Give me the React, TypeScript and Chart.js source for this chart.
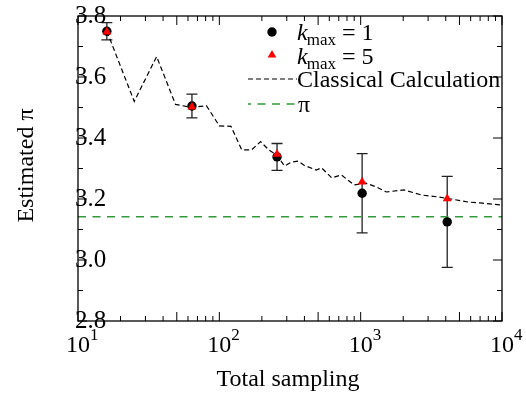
import React, { useEffect, useRef } from 'react';
import { Chart, registerables } from 'chart.js';

Chart.register(...registerables);

const SERIF = "'Liberation Serif', 'Times New Roman', serif";

// ---- data ----
const samplingN = [16, 64, 256, 1024, 4096];
const kmax1Values = [3.75, 3.505, 3.338, 3.219, 3.125];
const kmax1Errors = [0.028, 0.039, 0.044, 0.13, 0.149];
const kmax5Values = [3.748, 3.502, 3.347, 3.256, 3.201];

const classicalN = [
  16, 25, 36, 49, 64, 81, 100, 121, 144, 169, 196, 225, 256, 289, 324, 361, 400,
  484, 529, 625, 729, 900, 1089, 1296, 1521, 2025, 2704, 3481, 4356, 5776, 7056, 10000,
];
const classicalValues = [
  3.75, 3.52, 3.667, 3.51, 3.5, 3.506, 3.44, 3.438, 3.361, 3.361, 3.388, 3.36, 3.344, 3.308, 3.321, 3.324, 3.31,
  3.295, 3.302, 3.269, 3.279, 3.246, 3.252, 3.239, 3.223, 3.23, 3.213, 3.207, 3.2, 3.19, 3.187, 3.18,
];

const piLineN = [10, 10000];
const piValue = 3.14159;

// ---- axes ----
const xMin = 10;
const xMax = 10000;
const yMin = 2.8;
const yMax = 3.8;
const xMajorTicks = [10, 100, 1000, 10000];
const xTickExponents = ['1', '2', '3', '4'];
const xMinorTicks = [20, 30, 40, 50, 60, 70, 80, 90, 200, 300, 400, 500, 600, 700, 800, 900, 2000, 3000, 4000, 5000, 6000, 7000, 8000, 9000];
const xLongMinorTicks = [50, 500, 5000];
const yMajorTicks = [2.8, 3.0, 3.2, 3.4, 3.6, 3.8];
const yTickLabels = ['2.8', '3.0', '3.2', '3.4', '3.6', '3.8'];
const yMinorTicks = [2.9, 3.1, 3.3, 3.5, 3.7];

const xTitle = 'Total sampling';
const yTitle = 'Estimated π';

const RED = '#ff0000';
const GREEN = '#33993a';

const overlayPlugin = {
  id: 'overlay',
  beforeDatasetsDraw(chart: any) {
    const { ctx, scales } = chart;
    const x = scales.x;
    const y = scales.y;
    ctx.save();
    ctx.strokeStyle = '#222';
    ctx.lineWidth = 1.3;
    samplingN.forEach((n, i) => {
      const px = x.getPixelForValue(n);
      const top = y.getPixelForValue(kmax1Values[i] + kmax1Errors[i]);
      const bot = y.getPixelForValue(kmax1Values[i] - kmax1Errors[i]);
      ctx.beginPath();
      ctx.moveTo(px, top);
      ctx.lineTo(px, bot);
      ctx.moveTo(px - 5.5, top);
      ctx.lineTo(px + 5.5, top);
      ctx.moveTo(px - 5.5, bot);
      ctx.lineTo(px + 5.5, bot);
      ctx.stroke();
    });
    ctx.restore();
  },
  afterDraw(chart: any) {
    const { ctx, chartArea: a, scales } = chart;
    const x = scales.x;
    const y = scales.y;
    ctx.save();
    // frame
    ctx.strokeStyle = '#000';
    ctx.lineWidth = 1.3;
    ctx.strokeRect(a.left, a.top, a.right - a.left, a.bottom - a.top);

    // ticks
    ctx.lineWidth = 1;
    const xTick = (v: number, len: number) => {
      const px = x.getPixelForValue(v);
      ctx.beginPath();
      ctx.moveTo(px, a.bottom);
      ctx.lineTo(px, a.bottom - len);
      ctx.moveTo(px, a.top);
      ctx.lineTo(px, a.top + len);
      ctx.stroke();
    };
    const yTick = (v: number, len: number) => {
      const py = y.getPixelForValue(v);
      ctx.beginPath();
      ctx.moveTo(a.left, py);
      ctx.lineTo(a.left + len, py);
      ctx.moveTo(a.right, py);
      ctx.lineTo(a.right - len, py);
      ctx.stroke();
    };
    xMajorTicks.forEach((v) => xTick(v, 9));
    xMinorTicks.forEach((v) => xTick(v, xLongMinorTicks.includes(v) ? 9 : 5));
    yMajorTicks.forEach((v) => yTick(v, 9));
    yMinorTicks.forEach((v) => yTick(v, 5));

    ctx.fillStyle = '#000';
    // y tick labels
    ctx.font = `25px ${SERIF}`;
    ctx.textAlign = 'left';
    ctx.textBaseline = 'middle';
    yMajorTicks.forEach((v, i) => {
      ctx.fillText(yTickLabels[i], a.left - 3, y.getPixelForValue(v));
    });

    // x tick labels 10^k
    ctx.textBaseline = 'alphabetic';
    xMajorTicks.forEach((v, i) => {
      const px = x.getPixelForValue(v);
      ctx.font = `24px ${SERIF}`;
      ctx.textAlign = 'center';
      const w = ctx.measureText('10').width;
      ctx.fillText('10', px, a.bottom + 31);
      ctx.font = `17px ${SERIF}`;
      ctx.textAlign = 'left';
      ctx.fillText(xTickExponents[i], px + w / 2, a.bottom + 19);
    });

    // axis titles
    ctx.font = `24px ${SERIF}`;
    ctx.textAlign = 'center';
    ctx.fillText(xTitle, (a.left + a.right) / 2 - 2, a.bottom + 65);
    ctx.save();
    ctx.translate(33, (a.top + a.bottom) / 2 - 3);
    ctx.rotate(-Math.PI / 2);
    ctx.fillText(yTitle, 0, 0);
    ctx.restore();

    // legend
    const lx = a.left + 219; // text start
    const mx = lx - 25; // marker centre
    const rows = [a.top + 24, a.top + 48, a.top + 71, a.top + 96];
    // row 1: circle
    ctx.fillStyle = '#000';
    ctx.beginPath();
    ctx.arc(mx, rows[0] - 8, 4.7, 0, Math.PI * 2);
    ctx.fill();
    // row 2: triangle
    ctx.fillStyle = RED;
    const r = 5;
    const ty = rows[1] - 9;
    ctx.beginPath();
    ctx.moveTo(mx, ty - r);
    ctx.lineTo(mx + r * Math.sin((2 * Math.PI) / 3), ty - r * Math.cos((2 * Math.PI) / 3));
    ctx.lineTo(mx + r * Math.sin((4 * Math.PI) / 3), ty - r * Math.cos((4 * Math.PI) / 3));
    ctx.closePath();
    ctx.fill();
    // row 3: dashed black line
    ctx.strokeStyle = '#000';
    ctx.lineWidth = 1.2;
    ctx.setLineDash([5, 3]);
    ctx.beginPath();
    ctx.moveTo(lx - 49, rows[2] - 8);
    ctx.lineTo(lx, rows[2] - 8);
    ctx.stroke();
    // row 4: green dashed line
    ctx.strokeStyle = GREEN;
    ctx.lineWidth = 1.5;
    ctx.setLineDash([8, 6.5]);
    ctx.lineDashOffset = 5;
    ctx.beginPath();
    ctx.moveTo(lx - 49, rows[3] - 8);
    ctx.lineTo(lx, rows[3] - 8);
    ctx.stroke();
    ctx.setLineDash([]);

    // legend texts
    ctx.fillStyle = '#000';
    ctx.textAlign = 'left';
    ctx.textBaseline = 'alphabetic';
    const kmaxLabel = (row: number, val: string) => {
      let cx = lx;
      ctx.font = `italic 24px ${SERIF}`;
      ctx.fillText('k', cx, rows[row]);
      cx += ctx.measureText('k').width - 1;
      ctx.font = `17px ${SERIF}`;
      ctx.fillText('max', cx, rows[row] + 5);
      cx += ctx.measureText('max').width;
      ctx.font = `24px ${SERIF}`;
      ctx.fillText(' = ' + val, cx, rows[row]);
    };
    kmaxLabel(0, '1');
    kmaxLabel(1, '5');
    ctx.font = `24px ${SERIF}`;
    ctx.fillText('Classical Calculation', lx, rows[2]);
    ctx.fillText('π', lx + 1, rows[3]);
    ctx.restore();
  },
};

export default function App() {
  const canvasRef = useRef<HTMLCanvasElement | null>(null);

  useEffect(() => {
    if (!canvasRef.current) return;
    Chart.defaults.font.family = SERIF;
    const chart = new Chart(canvasRef.current, {
      type: 'scatter',
      data: {
        datasets: [
          {
            label: 'kmax = 5',
            data: samplingN.map((n, i) => ({ x: n, y: kmax5Values[i] })),
            pointStyle: 'triangle',
            pointRadius: 5.2,
            backgroundColor: RED,
            borderColor: RED,
            borderWidth: 0,
            showLine: false,
            order: 0,
          },
          {
            label: 'kmax = 1',
            data: samplingN.map((n, i) => ({ x: n, y: kmax1Values[i] })),
            pointStyle: 'circle',
            pointRadius: 4.7,
            backgroundColor: '#000',
            borderColor: '#000',
            borderWidth: 0,
            showLine: false,
            order: 1,
          },
          {
            label: 'Classical Calculation',
            data: classicalN.map((n, i) => ({ x: n, y: classicalValues[i] })),
            showLine: true,
            borderColor: '#000',
            borderWidth: 1.2,
            borderDash: [5, 3],
            pointRadius: 0,
            fill: false,
            order: 2,
          },
          {
            label: 'π',
            data: piLineN.map((n) => ({ x: n, y: piValue })),
            showLine: true,
            borderColor: GREEN,
            borderWidth: 1.5,
            borderDash: [8, 6.5],
            pointRadius: 0,
            fill: false,
            order: 3,
          },
        ] as any,
      },
      options: {
        responsive: false,
        animation: false,
        devicePixelRatio: 1,
        events: [],
        layout: { padding: { top: 16, right: 24, left: 0, bottom: 0 } },
        plugins: { legend: { display: false }, tooltip: { enabled: false } },
        scales: {
          x: {
            type: 'logarithmic',
            min: xMin,
            max: xMax,
            grid: { display: false },
            border: { display: false },
            ticks: { display: false },
            afterFit: (s: any) => {
              s.height = 73;
            },
          },
          y: {
            type: 'linear',
            min: yMin,
            max: yMax,
            grid: { display: false },
            border: { display: false },
            ticks: { display: false },
            afterFit: (s: any) => {
              s.width = 78;
            },
          },
        },
      } as any,
      plugins: [overlayPlugin],
    });
    return () => chart.destroy();
  }, []);

  return (
    <div style={{ position: 'fixed', left: 0, top: 0, width: 526, height: 394, background: '#fff' }}>
      <canvas ref={canvasRef} width={526} height={394} style={{ display: 'block' }} />
    </div>
  );
}
